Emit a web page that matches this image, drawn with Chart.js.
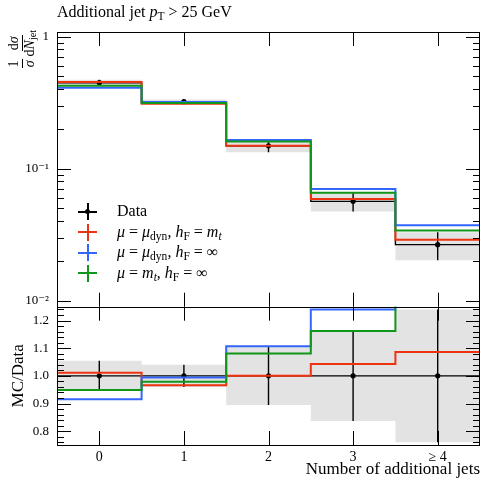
<!DOCTYPE html>
<html>
<head>
<meta charset="utf-8">
<script src="https://cdn.jsdelivr.net/npm/chart.js@4/dist/chart.umd.min.js"></script>
<style>
  body { margin: 0; background: #fff; }
  #wrap { position: relative; width: 484px; height: 480px; font-family: 'Liberation Serif', 'DejaVu Serif', serif; color: #000; }
  canvas { position: absolute; left: 0; top: 0; }
  .sub { font-size: 72%; position: relative; top: 0.28em; }
  #title { position: absolute; left: 57px; top: 3px; font-size: 16px; white-space: nowrap; }
  #ylab { position: absolute; width: 70px; height: 36px; display: flex; align-items: center; justify-content: flex-end;
          left: -13px; top: 47px; transform: rotate(-90deg); font-size: 14px; white-space: nowrap; }
  .frac { display: inline-flex; flex-direction: column; align-items: center; margin-left: 3px; line-height: 1.05; }
  .frac .num { border-bottom: 1px solid #000; padding: 0 1px; }
  #legend { position: absolute; left: 76px; top: 201px; font-size: 16px; }
  .row { position: relative; height: 20.5px; line-height: 20.5px; white-space: nowrap; padding-left: 41px; }
  .mk { position: absolute; left: 2px; top: 2px; width: 19px; height: 17px; }
  .mk .h { position: absolute; left: 0; top: 7.5px; width: 19px; height: 2px; }
  .mk .v { position: absolute; left: 8.5px; top: 0; width: 2px; height: 17px; }
  .mk .d { position: absolute; left: 7px; top: 6px; width: 5px; height: 5px; border-radius: 50%; background: #000; }
</style>
</head>
<body>
<div id="wrap">
  <canvas id="top" width="484" height="480"></canvas>
  <canvas id="ratio" width="484" height="480"></canvas>
  <div id="title">Additional jet <i>p</i><span class="sub">T</span> &gt; 25 GeV</div>
  <div id="ylab">
    <span class="frac"><span class="num">1</span><span><i>σ</i></span></span>
    <span class="frac"><span class="num">d<i>σ</i></span><span>d<i>N</i><span class="sub">jet</span></span></span>
  </div>
  <div id="legend"></div>
</div>
<script>
const binLabels = ['0', '1', '2', '3', '≥ 4'];
const binCenters = [0, 1, 2, 3, 4];
const binEdges = [-0.5, 0.5, 1.5, 2.5, 3.5, 4.5];

// normalised cross section 1/sigma dsigma/dNjet
const dataVals = [0.448, 0.322, 0.149, 0.0566, 0.0266];
const dataRelErr = [0.055, 0.04, 0.105, 0.163, 0.24];
const mcDynMt = [0.453, 0.311, 0.149, 0.0590, 0.0289];
const mcDynInf = [0.410, 0.320, 0.165, 0.0702, 0.0373];
const mcMtInf = [0.425, 0.315, 0.161, 0.0658, 0.0341];

const mcNames = [
  '<i>μ</i> = <i>μ</i><span class="sub">dyn</span>, <i>h</i><span class="sub">F</span> = <i>m</i><span class="sub"><i>t</i></span>',
  '<i>μ</i> = <i>μ</i><span class="sub">dyn</span>, <i>h</i><span class="sub">F</span> = ∞',
  '<i>μ</i> = <i>m</i><span class="sub"><i>t</i></span>, <i>h</i><span class="sub">F</span> = ∞'
];
const mcColors = ['#EE3311', '#3366FF', '#109618'];
const bandColor = '#e3e3e3';
const serif = "'Liberation Serif', 'DejaVu Serif', serif";

// helpers to turn per-bin values into step points
const stepPts = vals => binEdges.map((e, i) => ({ x: e, y: vals[Math.min(i, vals.length - 1)] }));
const errPts = (vals, lo, hi) => binCenters.flatMap((c, i) => [
  { x: c, y: lo[i] }, { x: c, y: hi[i] }, { x: c + 0.01, y: null }
]);
const ptPts = vals => binCenters.map((c, i) => ({ x: c, y: vals[i] }));

const dataLo = dataVals.map((v, i) => v * (1 - dataRelErr[i]));
const dataHi = dataVals.map((v, i) => v * (1 + dataRelErr[i]));
const ones = dataVals.map(() => 1);
const ratioLo = dataRelErr.map(e => 1 - e);
const ratioHi = dataRelErr.map(e => 1 + e);
const mcSets = [mcDynMt, mcDynInf, mcMtInf];

// inward ticks and frame, like the reference
const frameTicks = {
  id: 'frameTicks',
  afterDraw(chart, args, opts) {
    const { ctx, chartArea: a } = chart;
    const y = chart.scales.y, x = chart.scales.x;
    ctx.save();
    ctx.strokeStyle = '#000';
    ctx.lineWidth = 1;
    ctx.beginPath();
    y.ticks.forEach(t => {
      const py = Math.round(y.getPixelForValue(t.value)) + 0.5;
      const len = opts.isMajor(t.value) ? 14 : 7;
      ctx.moveTo(a.left, py); ctx.lineTo(a.left + len, py);
      ctx.moveTo(a.right, py); ctx.lineTo(a.right - len, py);
    });
    binCenters.forEach(c => {
      const px = Math.round(x.getPixelForValue(c)) + 0.5;
      ctx.moveTo(px, a.top); ctx.lineTo(px, a.top + 14);
      ctx.moveTo(px, a.bottom); ctx.lineTo(px, a.bottom - 14);
    });
    ctx.stroke();
    ctx.strokeRect(Math.round(a.left) + 0.5, Math.round(a.top) + 0.5,
      Math.round(a.right - a.left) - 1, Math.round(a.bottom - a.top));
    ctx.restore();
  }
};

function buildDatasets(center, lo, hi, mcVals) {
  const ds = [];
  ds.push({ data: stepPts(lo), stepped: 'before', borderWidth: 0, pointRadius: 0, fill: false, order: 20 });
  ds.push({ data: stepPts(hi), stepped: 'before', borderWidth: 0, pointRadius: 0, fill: '-1', backgroundColor: bandColor, order: 19 });
  ds.push({ data: stepPts(center), stepped: 'before', borderColor: '#000', borderWidth: 1.4, pointRadius: 0, order: 10 });
  ds.push({ data: errPts(center, lo, hi), borderColor: '#000', borderWidth: 1.4, pointRadius: 0, spanGaps: false, order: 9 });
  ds.push({ data: ptPts(center), showLine: false, pointRadius: 2.6, pointBackgroundColor: '#000', pointBorderWidth: 0, order: 8 });
  mcVals.forEach((vals, k) => {
    ds.push({ data: stepPts(vals), stepped: 'before', borderColor: mcColors[k], borderWidth: 2, pointRadius: 0, order: 3 - k });
  });
  return ds;
}

const xScaleBase = { type: 'linear', min: -0.5, max: 4.5, offset: false, grid: { display: false, drawTicks: false }, border: { display: false } };

const topTicks = [];
[0.01, 0.1, 1].forEach(d => { for (let m = 1; m <= 9; m++) { const v = +(m * d).toPrecision(3); if (v <= 1) topTicks.push(v); } });
const topLabels = { 1: '1', 0.1: '10⁻¹', 0.01: '10⁻²' };

new Chart(document.getElementById('top'), {
  type: 'line',
  data: { datasets: buildDatasets(dataVals, dataLo, dataHi, mcSets) },
  options: {
    responsive: false, animation: false, parsing: true,
    layout: { padding: { top: 32, bottom: 173.3, left: 0, right: 1 } },
    plugins: { legend: { display: false }, tooltip: { enabled: false },
      frameTicks: { isMajor: v => Math.abs(Math.log10(v) - Math.round(Math.log10(v))) < 1e-6 } },
    scales: {
      x: Object.assign({}, xScaleBase, { display: false }),
      y: {
        type: 'logarithmic', min: 0.00901, max: 1.085,
        grid: { display: false, drawTicks: false }, border: { display: false },
        afterBuildTicks: s => { s.ticks = topTicks.map(v => ({ value: v })); },
        afterFit: s => { s.width = 57; },
        ticks: { autoSkip: false, padding: 8, color: '#000', font: { family: serif, size: 13 },
          callback: v => topLabels[+v.toPrecision(3)] || '' }
      }
    }
  },
  plugins: [frameTicks]
});

const ratioTicks = [];
for (let i = 38; i <= 62; i++) ratioTicks.push(+(i * 0.02).toFixed(2));

new Chart(document.getElementById('ratio'), {
  type: 'line',
  data: { datasets: buildDatasets(ones, ratioLo, ratioHi, mcSets.map(m => m.map((v, i) => v / dataVals[i]))) },
  options: {
    responsive: false, animation: false,
    layout: { padding: { top: 306.7, bottom: 0, left: 0, right: 1 } },
    plugins: { legend: { display: false }, tooltip: { enabled: false },
      frameTicks: { isMajor: v => Math.abs(v * 10 - Math.round(v * 10)) < 1e-6 } },
    scales: {
      x: Object.assign({}, xScaleBase, {
        afterBuildTicks: s => { s.ticks = binCenters.map(v => ({ value: v })); },
        afterFit: s => { s.height = 35; },
        ticks: { autoSkip: false, maxRotation: 0, padding: 4, color: '#000', font: { family: serif, size: 14 },
          callback: (v) => binLabels[binCenters.indexOf(v)] },
        title: { display: true, text: 'Number of additional jets', align: 'end', color: '#000',
          font: { family: serif, size: 17 }, padding: { top: 0, bottom: 0 } }
      }),
      y: {
        type: 'linear', min: 0.75, max: 1.25,
        grid: { display: false, drawTicks: false }, border: { display: false },
        afterBuildTicks: s => { s.ticks = ratioTicks.map(v => ({ value: v })); },
        afterFit: s => { s.width = 57; },
        ticks: { autoSkip: false, padding: 8, color: '#000', font: { family: serif, size: 13 },
          callback: v => Math.abs(v * 10 - Math.round(v * 10)) < 1e-6 ? v.toFixed(1) : '' },
        title: { display: true, text: 'MC/Data', color: '#000', font: { family: serif, size: 17 }, padding: { top: 8, bottom: 0 } }
      }
    }
  },
  plugins: [frameTicks]
});

// legend with math labels
const legend = document.getElementById('legend');
const rows = [{ name: 'Data', color: '#000', dot: true }].concat(mcNames.map((n, k) => ({ name: n, color: mcColors[k] })));
rows.forEach(r => {
  const div = document.createElement('div');
  div.className = 'row';
  div.innerHTML = '<span class="mk"><span class="h" style="background:' + r.color + '"></span>' +
    '<span class="v" style="background:' + r.color + '"></span>' + (r.dot ? '<span class="d"></span>' : '') + '</span>' + r.name;
  legend.appendChild(div);
});
</script>
</body>
</html>
